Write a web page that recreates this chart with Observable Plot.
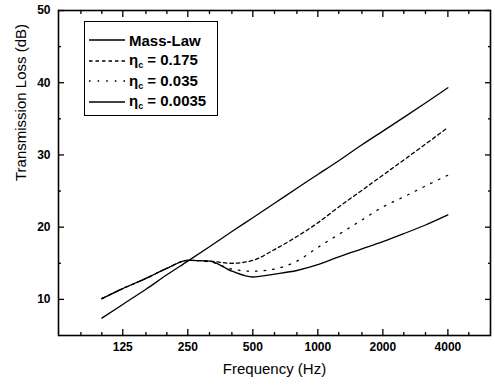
<!DOCTYPE html>
<html>
<head>
<meta charset="utf-8">
<script src="https://cdn.jsdelivr.net/npm/d3@7"></script>
<script src="https://cdn.jsdelivr.net/npm/@observablehq/plot@0.6"></script>
<style>
  html, body { margin: 0; padding: 0; background: #fff; }
  #wrap { position: relative; width: 495px; height: 385px; font-family: "Liberation Sans", Arial, sans-serif; }
  #wrap svg { font-family: "Liberation Sans", Arial, sans-serif; }
  #legend { position: absolute; left: 84px; top: 21px; width: 132px; height: 93px; border: 1.3px solid #000; background: #fff; }
  .row { position: absolute; left: 0; height: 20px; display: flex; align-items: center; font-size: 15px; font-weight: bold; color: #000; }
  .row svg { margin-left: 4px; margin-right: 4px; }
  sub { font-size: 9px; vertical-align: -3px; }
</style>
</head>
<body>
<div id="wrap"></div>
<script>
// Data
const freqs = [100, 125, 160, 200, 250, 315, 400, 500, 630, 800, 1000, 1250, 1600, 2000, 2500, 3150, 4000];
const massLaw = [7.4, 9.3, 11.4, 13.4, 15.3, 17.3, 19.4, 21.3, 23.3, 25.4, 27.3, 29.2, 31.4, 33.3, 35.2, 37.2, 39.3];
const eta0175 = [10.1, 11.5, 12.9, 14.3, 15.4, 15.3, 15.0, 15.4, 16.9, 18.7, 20.6, 22.8, 25.1, 27.2, 29.3, 31.5, 33.8];
const eta0035 = [10.1, 11.5, 12.9, 14.3, 15.4, 15.2, 14.2, 13.9, 14.2, 15.3, 17.2, 19.0, 21.0, 22.8, 24.2, 25.7, 27.2];
const eta00035 = [10.1, 11.5, 12.9, 14.3, 15.4, 15.3, 13.9, 13.1, 13.5, 14.0, 14.8, 15.9, 17.0, 18.0, 19.1, 20.3, 21.7];

const xMajor = [125, 250, 500, 1000, 2000, 4000];
const xMinor = [80, 100, 160, 200, 315, 400, 630, 800, 1250, 1600, 2500, 3150, 5000];
const yMajor = [10, 20, 30, 40, 50];
const yMinor = [15, 25, 35, 45];

const series = [
  {name: "Mass-Law", values: massLaw, dash: null},
  {name: "0.175", values: eta0175, dash: "3.5,3"},
  {name: "0.035", values: eta0035, dash: "1.6,7"},
  {name: "0.0035", values: eta00035, dash: null}
];
const rows = series.flatMap(s => freqs.map((f, i) => ({f, v: s.values[i], s: s.name})));

const W = 495, H = 385, mL = 58, mR = 5, mT = 10, mB = 50;
const tk = {tickFormat: () => "", label: null, strokeWidth: 1.3};
const chart = Plot.plot({
  width: W, height: H,
  marginLeft: mL, marginRight: mR, marginTop: mT, marginBottom: mB,
  x: {type: "log", domain: [63, 6300]},
  y: {domain: [5, 50]},
  marks: [
    Plot.frame({stroke: "#000", fill: "none", strokeWidth: 1.6}),
    // inward ticks
    Plot.axisX({anchor: "bottom", ticks: xMajor, tickSize: 6, dy: -6, ...tk}),
    Plot.axisX({anchor: "bottom", ticks: xMinor, tickSize: 3, dy: -3, ...tk}),
    Plot.axisX({anchor: "top", ticks: xMajor, tickSize: 6, dy: 6, ...tk}),
    Plot.axisX({anchor: "top", ticks: xMinor, tickSize: 3, dy: 3, ...tk}),
    Plot.axisY({anchor: "left", ticks: yMajor, tickSize: 6, dx: 6, ...tk}),
    Plot.axisY({anchor: "left", ticks: yMinor, tickSize: 3, dx: 3, ...tk}),
    Plot.axisY({anchor: "right", ticks: yMajor, tickSize: 6, dx: -6, ...tk}),
    Plot.axisY({anchor: "right", ticks: yMinor, tickSize: 3, dx: -3, ...tk}),
    // tick labels
    Plot.axisX({anchor: "bottom", ticks: xMajor, tickSize: 0, tickPadding: 7, tickFormat: d => String(d), fontSize: 12, fontWeight: "bold", label: null}),
    Plot.axisY({anchor: "left", ticks: yMajor, tickSize: 0, tickPadding: 8, fontSize: 12, fontWeight: "bold", label: null}),
    // axis titles
    Plot.text(["Frequency (Hz)"], {text: d => d, frameAnchor: "bottom", dy: 38, fontSize: 15, fill: "#000"}),
    Plot.text(["Transmission Loss (dB)"], {text: d => d, frameAnchor: "left", dx: -37, dy: 8, rotate: -90, fontSize: 15, fill: "#000"}),
    // curves
    ...series.map(s => Plot.line(rows.filter(r => r.s === s.name), {
      x: "f", y: "v", stroke: "#000", strokeWidth: 1.3,
      strokeDasharray: s.dash, curve: "monotone-x"
    }))
  ]
});

const wrap = document.getElementById("wrap");
wrap.appendChild(chart);

// Legend
const legend = document.createElement("div");
legend.id = "legend";
const labels = ["Mass-Law", "η<sub>c</sub> = 0.175", "η<sub>c</sub> = 0.035", "η<sub>c</sub> = 0.0035"];
series.forEach((s, i) => {
  const row = document.createElement("div");
  row.className = "row";
  row.style.top = (8 + i * 20.5) + "px";
  const dash = s.dash ? `stroke-dasharray="${s.dash}"` : "";
  row.innerHTML = `<svg width="36" height="10"><line x1="0" y1="5" x2="36" y2="5" stroke="#000" stroke-width="1.3" ${dash}/></svg><span>${labels[i]}</span>`;
  legend.appendChild(row);
});
wrap.appendChild(legend);
</script>
</body>
</html>
